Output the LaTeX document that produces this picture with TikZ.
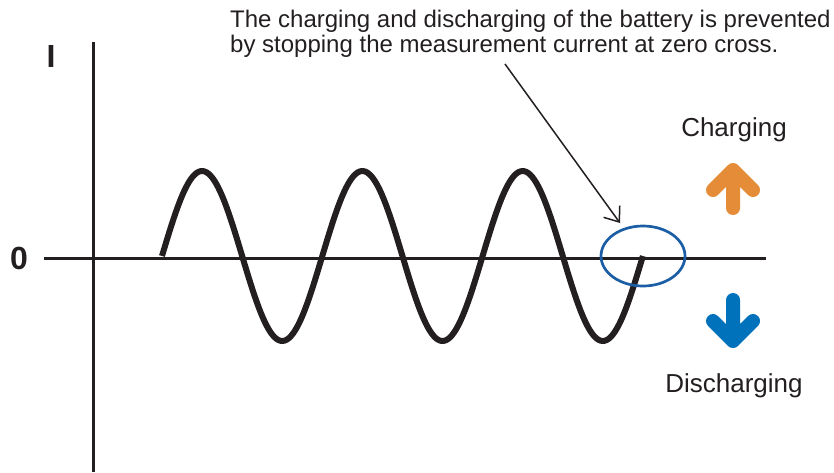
\documentclass[tikz,border=0pt]{standalone}
\usepackage{fontspec}
\setmainfont{Liberation Sans}
\usepackage{xcolor}
\usetikzlibrary{arrows.meta, shapes.geometric}

\definecolor{chargeorange}{RGB}{228,140,55}
\definecolor{dischargeblue}{RGB}{0,114,188}
\definecolor{ringblue}{RGB}{27,94,165}
\definecolor{inkgray}{RGB}{35,31,32}

\begin{document}
\begin{tikzpicture}[
  x=1pt, y=-1pt,
  axis/.style={line width=3pt, draw=inkgray},
  wave/.style={line width=6pt, draw=inkgray, line join=round},
  ring/.style={ellipse, draw=ringblue, line width=2.7pt, minimum width=84pt,
               minimum height=60pt, inner sep=0pt},
  note/.style={align=left, font=\fontsize{24}{24.5}\selectfont, text=inkgray,
               inner sep=0pt, anchor=north west},
  lbl/.style={font=\fontsize{26}{28}\selectfont, text=inkgray, inner sep=0pt,
              anchor=base},
  axlbl/.style={font=\fontsize{32}{34}\selectfont\bfseries, text=inkgray,
                inner sep=0pt},
  fat/.style={line width=14pt, line cap=round, line join=round},
  pointer/.style={-{Straight Barb[length=13pt, width=20pt]}, line width=1.5pt,
                  draw=inkgray}
]
  \useasboundingbox (0,0) rectangle (834,472);

  \coordinate (ytop) at (93,42);
  \coordinate (ybot) at (93,472);
  \coordinate (xl) at (44,258);
  \coordinate (xr) at (766,258);
  \draw[axis] (ytop) -- (ybot);
  \draw[axis] (xl) -- (xr);

  \node[axlbl] (ilbl) at (51,56) {I};
  \node[axlbl] (zlbl) at (19,258) {0};

  \draw[wave] plot[domain=0:1080, samples=240, smooth]
    ({162+\x/360*160.3}, {256-85*sin(\x)});

  \node[ring] (zc) at (643,256) {};

  \node[note] (msg) at (230,10)
    {The charging and discharging of the battery is prevented\\
     by stopping the measurement current at zero cross.};

  \coordinate (ptail) at (505,64);
  \coordinate (ptip) at (620,223);
  \draw[pointer] (ptail) -- (ptip);

  \node[lbl] (chg) at (734,136) {Charging};
  \node[lbl] (dchg) at (734,392) {Discharging};

  \coordinate (cup) at (733,170);
  \draw[fat, chargeorange] (713,190) -- (cup) -- (753,190) (cup) -- (733,208);
  \coordinate (cdown) at (733,341);
  \draw[fat, dischargeblue] (713,321) -- (cdown) -- (753,321) (cdown) -- (733,300);
\end{tikzpicture}
\end{document}
